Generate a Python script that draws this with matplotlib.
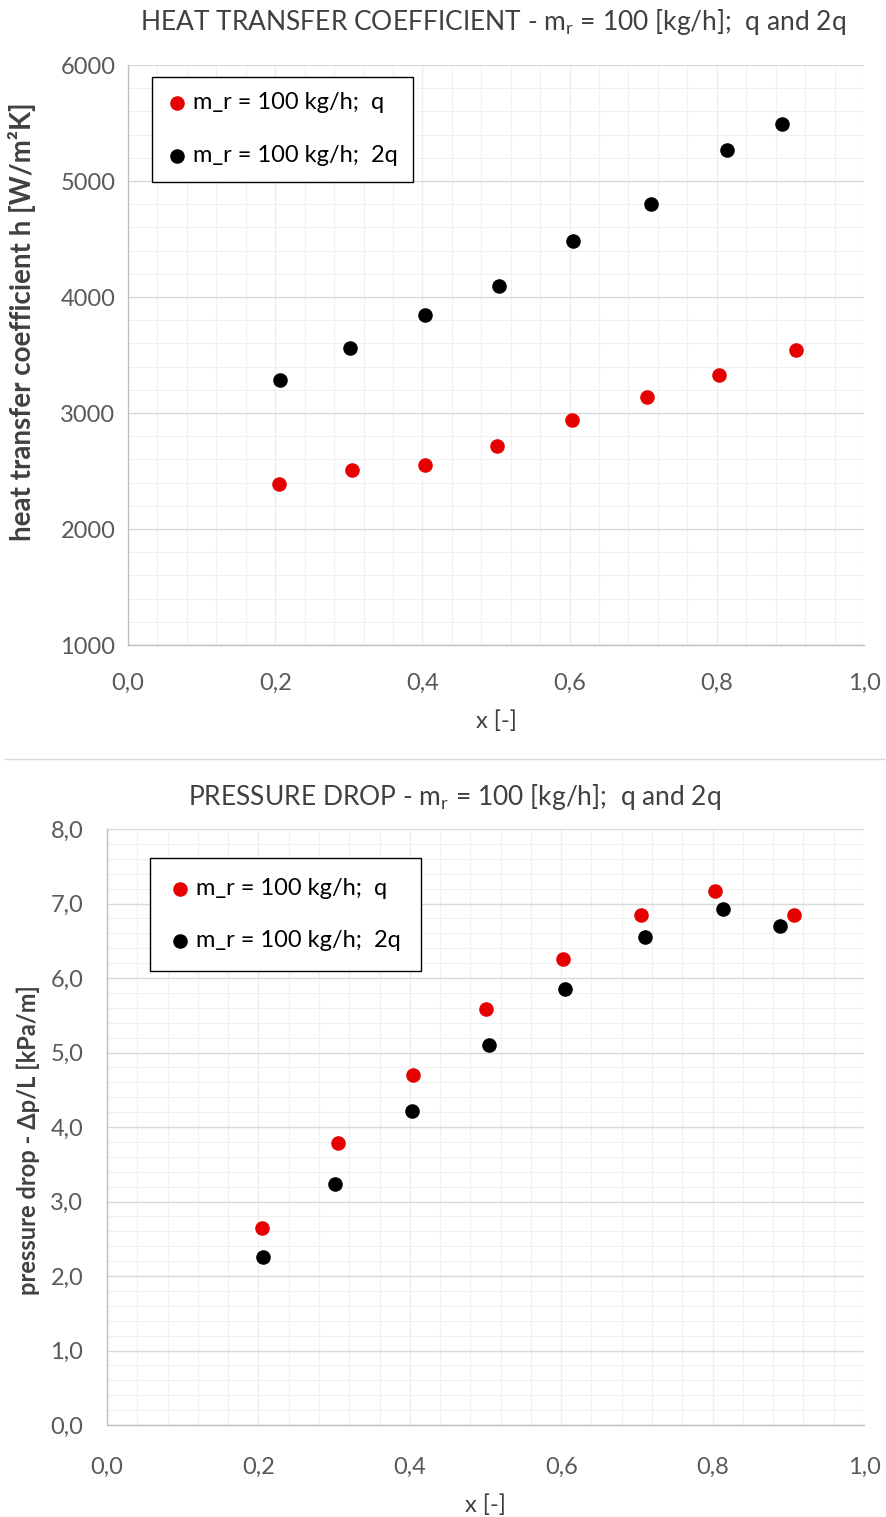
import matplotlib
matplotlib.use("Agg")
import matplotlib.pyplot as plt
from matplotlib.ticker import MultipleLocator, FuncFormatter
from matplotlib.lines import Line2D

plt.rcParams['font.family'] = ['Lato', 'DejaVu Sans']

# ---- data ----
x_q = [0.205, 0.305, 0.404, 0.501, 0.603, 0.705, 0.803, 0.908]
x_2q = [0.206, 0.301, 0.403, 0.504, 0.605, 0.711, 0.814, 0.889]
h_q = [2388, 2509, 2552, 2716, 2940, 3138, 3328, 3543]
h_2q = [3284, 3560, 3845, 4095, 4483, 4802, 5267, 5491]
dp_q = [2.64, 3.78, 4.70, 5.58, 6.26, 6.85, 7.17, 6.85]
dp_2q = [2.25, 3.23, 4.22, 5.10, 5.85, 6.55, 6.93, 6.70]

label_q = "m_r = 100 kg/h;  q"
label_2q = "m_r = 100 kg/h;  2q"
title_top = r"HEAT TRANSFER COEFFICIENT - m$_\mathregular{r}$ = 100 [kg/h];  q and 2q"
title_bot = r"PRESSURE DROP - m$_\mathregular{r}$ = 100 [kg/h];  q and 2q"
ylabel_top = "heat transfer coefficient h [W/m²K]"
ylabel_bot = "pressure drop - Δp/L [kPa/m]"
xlabel = "x [-]"

RED = "#e60000"
BLACK = "#000000"
TXT = "#404040"
TICK = "#595959"

W, H = 887, 1517
fig = plt.figure(figsize=(W / 100, H / 100), dpi=100)


def frac(l, t, r, b):
    return [l / W, 1 - b / H, (r - l) / W, (b - t) / H]


def comma(v, pos, nd=1):
    return f"{v:.{nd}f}".replace(".", ",")


def style(ax, ymin, ymax, ymaj, ymin_minor, yfmt, xpad, ypad, fs):
    ax.set_xlim(0, 1.0)
    ax.set_ylim(ymin, ymax)
    ax.xaxis.set_major_locator(MultipleLocator(0.2))
    ax.xaxis.set_minor_locator(MultipleLocator(0.04))
    ax.yaxis.set_major_locator(MultipleLocator(ymaj))
    ax.yaxis.set_minor_locator(MultipleLocator(ymin_minor))
    ax.xaxis.set_major_formatter(FuncFormatter(lambda v, p: comma(v, p)))
    ax.yaxis.set_major_formatter(FuncFormatter(yfmt))
    ax.grid(which='minor', color='#f0f0f0', linewidth=0.8)
    ax.xaxis.grid(which='major', color='#ececec', linewidth=0.9)
    ax.yaxis.grid(which='major', color='#d9d9d9', linewidth=1.0)
    ax.set_axisbelow(True)
    for s in ['top', 'right']:
        ax.spines[s].set_visible(False)
    for s in ['left', 'bottom']:
        ax.spines[s].set_color('#bfbfbf')
        ax.spines[s].set_linewidth(1.0)
    ax.tick_params(which='both', length=0, labelsize=fs, colors=TICK)
    ax.tick_params(axis='x', pad=xpad)
    ax.tick_params(axis='y', pad=ypad)


def legend(ax, anchor, bpad, lspace):
    leg = ax.legend(loc='upper left', bbox_to_anchor=anchor,
                    borderaxespad=0, fancybox=False, framealpha=1, edgecolor='black',
                    fontsize=17, labelspacing=lspace, handletextpad=0.3, borderpad=bpad,
                    handlelength=0.8, scatterpoints=1)
    leg.get_frame().set_linewidth(1.0)
    return leg


# ---- top chart ----
ax1 = fig.add_axes(frac(128, 65, 864, 645))
style(ax1, 1000, 6000, 1000, 200, lambda v, p: f"{int(v)}", 20, 9, 17)
ax1.scatter(x_q, h_q, s=110, color=RED, label=label_q, zorder=3, linewidths=0)
ax1.scatter(x_2q, h_2q, s=110, color=BLACK, label=label_2q, zorder=3, linewidths=0)
ax1.set_xlabel(xlabel, fontsize=17, color=TXT, labelpad=12)
ax1.set_ylabel(ylabel_top, fontsize=20, fontweight='bold', color=TXT)
ax1.yaxis.set_label_coords(-(128 - 36) / 736, (645 - 322) / 580)
legend(ax1, ((152 - 128) / 736, (645 - 77) / 580), 0.65, 1.35)
fig.text(493 / W, 1 - 22 / H, title_top, ha='center', va='center', fontsize=19, color=TXT)

# ---- bottom chart ----
ax2 = fig.add_axes(frac(107, 829, 864, 1425))
style(ax2, 0, 8, 1.0, 0.2, lambda v, p: comma(v, p), 23, 17, 17)
ax2.scatter(x_q, dp_q, s=110, color=RED, label=label_q, zorder=3, linewidths=0)
ax2.scatter(x_2q, dp_2q, s=110, color=BLACK, label=label_2q, zorder=3, linewidths=0)
ax2.set_xlabel(xlabel, fontsize=17, color=TXT, labelpad=12)
ax2.set_ylabel(ylabel_bot, fontsize=17, fontweight='bold', color=TXT)
ax2.yaxis.set_label_coords(-(107 - 40) / 757, (1425 - 1140) / 596)
legend(ax2, ((150 - 107) / 757, (1425 - 858) / 596), 0.85, 1.3)
fig.text(455 / W, 1 - 797 / H, title_bot, ha='center', va='center', fontsize=19, color=TXT)

# separator line (chart area border)
fig.add_artist(Line2D([5 / W, 884 / W], [1 - 759 / H, 1 - 759 / H], color='#d9d9d9', linewidth=1.0))

fig.savefig("out.png", dpi=100, facecolor='white')
